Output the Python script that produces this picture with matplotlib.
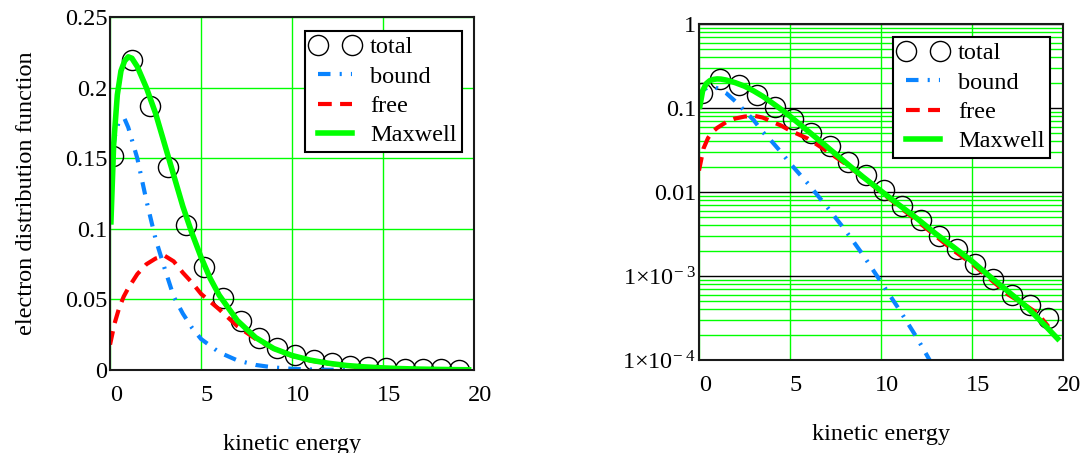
import matplotlib
matplotlib.use("Agg")
import matplotlib.pyplot as plt
import matplotlib.transforms as mtransforms

plt.rcParams['font.family'] = ['Liberation Serif', 'DejaVu Serif']
plt.rcParams['mathtext.fontset'] = 'custom'
plt.rcParams['mathtext.rm'] = 'Liberation Serif'
plt.rcParams['mathtext.it'] = 'Liberation Serif:italic'

# total distribution (circles), sampled on the energy grid
e_total = [0.18, 1.18, 2.18, 3.18, 4.18, 5.18, 6.18, 7.18, 8.18, 9.18,
           10.18, 11.18, 12.18, 13.18, 14.18, 15.18, 16.18, 17.18, 18.18, 19.18]
f_total = [0.152, 0.220, 0.187, 0.144, 0.103, 0.073, 0.051, 0.035, 0.023, 0.0158,
           0.0107, 0.0069, 0.0047, 0.0030, 0.0021, 0.0014, 0.00092, 0.00059, 0.00045, 0.00032]

# bound electrons
e_bound = [0.0, 0.25, 0.5, 0.8, 1.0, 1.5, 2.0, 2.5, 3.0, 3.5, 4.0, 4.5, 5.0,
           6.0, 7.0, 8.0, 9.0, 10.0, 11.0, 12.0, 13.0, 14.0, 15.0, 16.0, 17.0]
f_bound = [0.135, 0.165, 0.177, 0.178, 0.172, 0.150, 0.120, 0.093, 0.072, 0.052, 0.040, 0.030, 0.022,
           0.0125, 0.0068, 0.0036, 0.0018, 0.00085, 0.0004, 0.00018, 7.5e-5, 3e-5, 1.2e-5, 5e-6, 2e-6]

# free electrons
e_free = [0.0, 0.25, 0.5, 0.75, 1.0, 1.5, 2.0, 2.5, 3.0, 3.5, 4.0, 4.5, 5.0,
          6.0, 7.0, 8.0, 9.0, 10.0, 11.0, 12.0, 13.0, 14.0, 15.0, 16.0, 17.0, 18.0, 18.6, 19.2]
f_free = [0.018, 0.033, 0.044, 0.052, 0.058, 0.068, 0.075, 0.079, 0.081, 0.077, 0.069, 0.062, 0.054,
          0.043, 0.031, 0.022, 0.015, 0.0100, 0.0067, 0.0045, 0.0030, 0.0020, 0.0014, 0.00092,
          0.00060, 0.00044, 0.00036, 0.00025]

# Maxwell fit
e_max = [0.05, 0.2, 0.4, 0.6, 0.8, 1.0, 1.2, 1.5, 2.0, 2.5, 3.0, 3.5, 4.0, 4.5, 5.0, 5.5, 6.0,
         7.0, 8.0, 9.0, 10.0, 11.0, 12.0, 13.0, 14.0, 15.0, 16.0, 17.0, 18.0, 19.0, 19.7]
f_max = [0.105, 0.160, 0.195, 0.212, 0.219, 0.222, 0.221, 0.215, 0.200, 0.182, 0.160, 0.138, 0.116,
         0.097, 0.080, 0.065, 0.053, 0.035, 0.023, 0.0152, 0.0103, 0.0070, 0.0048, 0.0032, 0.0022,
         0.0015, 0.00098, 0.00065, 0.00043, 0.00026, 0.00018]

x_ticks = [0, 5, 10, 15, 20]
lin_yticks = [0, 0.05, 0.1, 0.15, 0.2, 0.25]
lin_ylabels = ["0", "0.05", "0.1", "0.15", "0.2", "0.25"]
log_yticks = [1e-4, 1e-3, 1e-2, 1e-1, 1]
log_ylabels = [r"1$\times$10$^{-\ 4}$", r"1$\times$10$^{-\ 3}$", "0.01", "0.1", "1"]

GREEN = "#00ff00"
BLUE = "#0a84ff"
RED = "#ff0000"
FS = 17.5

fig = plt.figure(figsize=(10.83, 4.53), dpi=100)
ax1 = fig.add_axes([0.1016, 0.1832, 0.3361, 0.7786])
ax2 = fig.add_axes([0.6454, 0.2053, 0.3361, 0.7417])


def draw(ax, legend_x):
    ax.plot(e_total, f_total, linestyle="none", marker="o", markersize=14.5,
            markerfacecolor="none", markeredgecolor="black", markeredgewidth=1.0,
            label="total", zorder=3)
    ax.plot(e_bound, f_bound, color=BLUE, lw=3, linestyle=(0, (3, 2.2, 0.5, 2.2)),
            label="bound", zorder=4)
    ax.plot(e_free, f_free, color=RED, lw=3, linestyle=(0, (3.3, 2.0)),
            label="free", zorder=4)
    ax.plot(e_max, f_max, color=GREEN, lw=4, label="Maxwell", zorder=5)
    ax.set_xlim(0, 20)
    ax.set_xticks(x_ticks)
    ax.tick_params(length=0, labelsize=FS)
    ax.tick_params(axis="x", pad=11)
    ax.tick_params(axis="y", pad=2)
    for sp in ax.spines.values():
        sp.set_linewidth(1.5)
        sp.set_color("#1a1a1a")
        sp.set_zorder(6)
    ax.set_xlabel("kinetic energy", fontsize=FS, labelpad=20)
    leg = ax.legend(loc="upper right", bbox_to_anchor=(legend_x, 0.961), numpoints=2,
                    fontsize=FS, frameon=True, fancybox=False, framealpha=1,
                    edgecolor="black", handlelength=2.0, handletextpad=0.45,
                    borderpad=0.22, labelspacing=0.3, borderaxespad=0)
    leg.get_frame().set_linewidth(1.5)
    leg.set_zorder(10)
    # shift x tick labels slightly to the right
    offset = mtransforms.ScaledTranslation(6 / 100, 0, fig.dpi_scale_trans)
    for lab in ax.get_xticklabels():
        lab.set_transform(lab.get_transform() + offset)


# linear scale
draw(ax1, 0.967)
ax1.set_ylim(0, 0.25)
ax1.set_yticks(lin_yticks)
ax1.set_yticklabels(lin_ylabels)
ax1.grid(True, color=GREEN, lw=1.0, zorder=0)
ax1.set_axisbelow(True)
ax1.set_ylabel("electron distribution function", fontsize=FS, labelpad=20)

# log scale
draw(ax2, 0.964)
ax2.set_yscale("log")
ax2.set_ylim(1e-4, 1)
ax2.set_yticks(log_yticks)
ax2.set_yticklabels(log_ylabels)
ax2.tick_params(which="minor", length=0, labelleft=False)
ax2.xaxis.set_minor_locator(matplotlib.ticker.NullLocator())
ax2.yaxis.set_minor_locator(matplotlib.ticker.LogLocator(base=10, subs=range(2, 10)))
ax2.yaxis.set_minor_formatter(matplotlib.ticker.NullFormatter())
ax2.grid(True, axis="x", which="major", color=GREEN, lw=1.0, zorder=0)
ax2.grid(True, axis="y", which="minor", color=GREEN, lw=1.0, zorder=0)
ax2.grid(True, axis="y", which="major", color="black", lw=1.0, zorder=0)
ax2.set_axisbelow(True)

fig.savefig("out.png", dpi=100)
